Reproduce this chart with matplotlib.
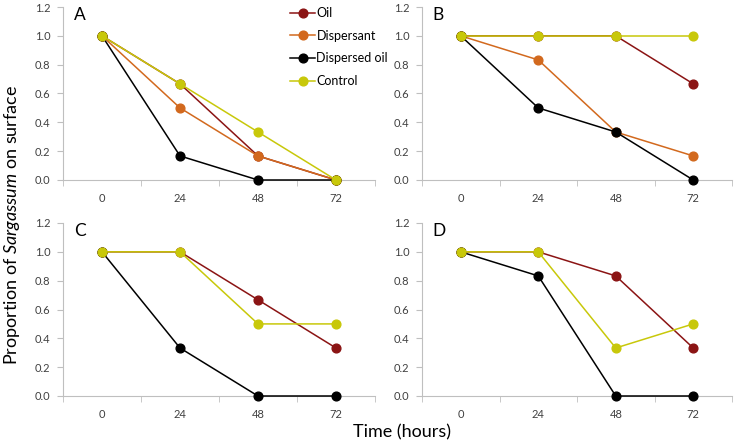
import matplotlib
matplotlib.use("Agg")
import matplotlib.pyplot as plt
import numpy as np

plt.rcParams['font.family'] = ['Lato', 'DejaVu Sans']
plt.rcParams['mathtext.fontset'] = 'custom'
plt.rcParams['mathtext.it'] = 'Lato:italic'
plt.rcParams['mathtext.rm'] = 'Lato'

# time points (hours)
hours = ['0', '24', '48', '72']

# proportion of Sargassum on surface per panel
oil = {
    'A': [1.0, 0.667, 0.167, 0.0],
    'B': [1.0, 1.0, 1.0, 0.667],
    'C': [1.0, 1.0, 0.667, 0.333],
    'D': [1.0, 1.0, 0.833, 0.333],
}
dispersant = {
    'A': [1.0, 0.5, 0.167, 0.0],
    'B': [1.0, 0.833, 0.333, 0.167],
}
dispersed_oil = {
    'A': [1.0, 0.167, 0.0, 0.0],
    'B': [1.0, 0.5, 0.333, 0.0],
    'C': [1.0, 0.333, 0.0, 0.0],
    'D': [1.0, 0.833, 0.0, 0.0],
}
control = {
    'A': [1.0, 0.667, 0.333, 0.0],
    'B': [1.0, 1.0, 1.0, 1.0],
    'C': [1.0, 1.0, 0.5, 0.5],
    'D': [1.0, 1.0, 0.333, 0.5],
}

series = [
    ('Oil', oil, '#8b1414'),
    ('Dispersant', dispersant, '#d2691e'),
    ('Dispersed oil', dispersed_oil, '#000000'),
    ('Control', control, '#c8c80a'),
]

fig = plt.figure(figsize=(7.38, 4.47), dpi=100)
W, H = 738.0, 447.0
boxes = {
    'A': (63, 7, 375, 180),
    'B': (422, 7, 732, 180),
    'C': (63, 223, 375, 396),
    'D': (422, 223, 732, 396),
}

x = np.arange(len(hours))
for panel, (l, t, r, b) in boxes.items():
    ax = fig.add_axes([l / W, 1 - b / H, (r - l) / W, (b - t) / H])
    for name, data, col in series:
        if panel in data:
            ax.plot(x, data[panel], '-o', color=col, lw=1.1, ms=6.3,
                    label=name, clip_on=False, zorder=3)
    ax.set_xlim(-0.5, 3.5)
    ax.set_ylim(0, 1.2)
    ax.set_yticks(np.arange(0, 1.21, 0.2))
    ax.set_yticklabels(['%.1f' % v for v in np.arange(0, 1.21, 0.2)])
    ax.set_xticks(x)
    ax.set_xticklabels(hours)
    ax.set_xticks(np.arange(-0.5, 3.6, 1), minor=True)
    ax.tick_params(axis='x', which='major', length=0, pad=9,
                   labelsize=8, labelcolor='#404040')
    ax.tick_params(axis='x', which='minor', length=4, color='#bfbfbf')
    ax.tick_params(axis='y', length=4, color='#bfbfbf', labelsize=8,
                   labelcolor='#404040', pad=5)
    for s in ['top', 'right']:
        ax.spines[s].set_visible(False)
    for s in ['left', 'bottom']:
        ax.spines[s].set_color('#bfbfbf')
    ax.text(0.035, 1.0, panel, transform=ax.transAxes, fontsize=12.5,
            va='top', ha='left')
    if panel == 'A':
        ax.legend(loc='upper left', bbox_to_anchor=(0.7, 1.05),
                  frameon=False, fontsize=9, labelspacing=0.85,
                  handlelength=2.0, handletextpad=0.1, borderpad=0.2)

fig.text(0.016, 0.497, 'Proportion of $\\mathit{Sargassum}$ on surface',
         rotation=90, ha='center', va='center', fontsize=13)
fig.text(0.545, 0.033, 'Time (hours)', ha='center', va='center', fontsize=13)

fig.savefig('out.png', dpi=100)
